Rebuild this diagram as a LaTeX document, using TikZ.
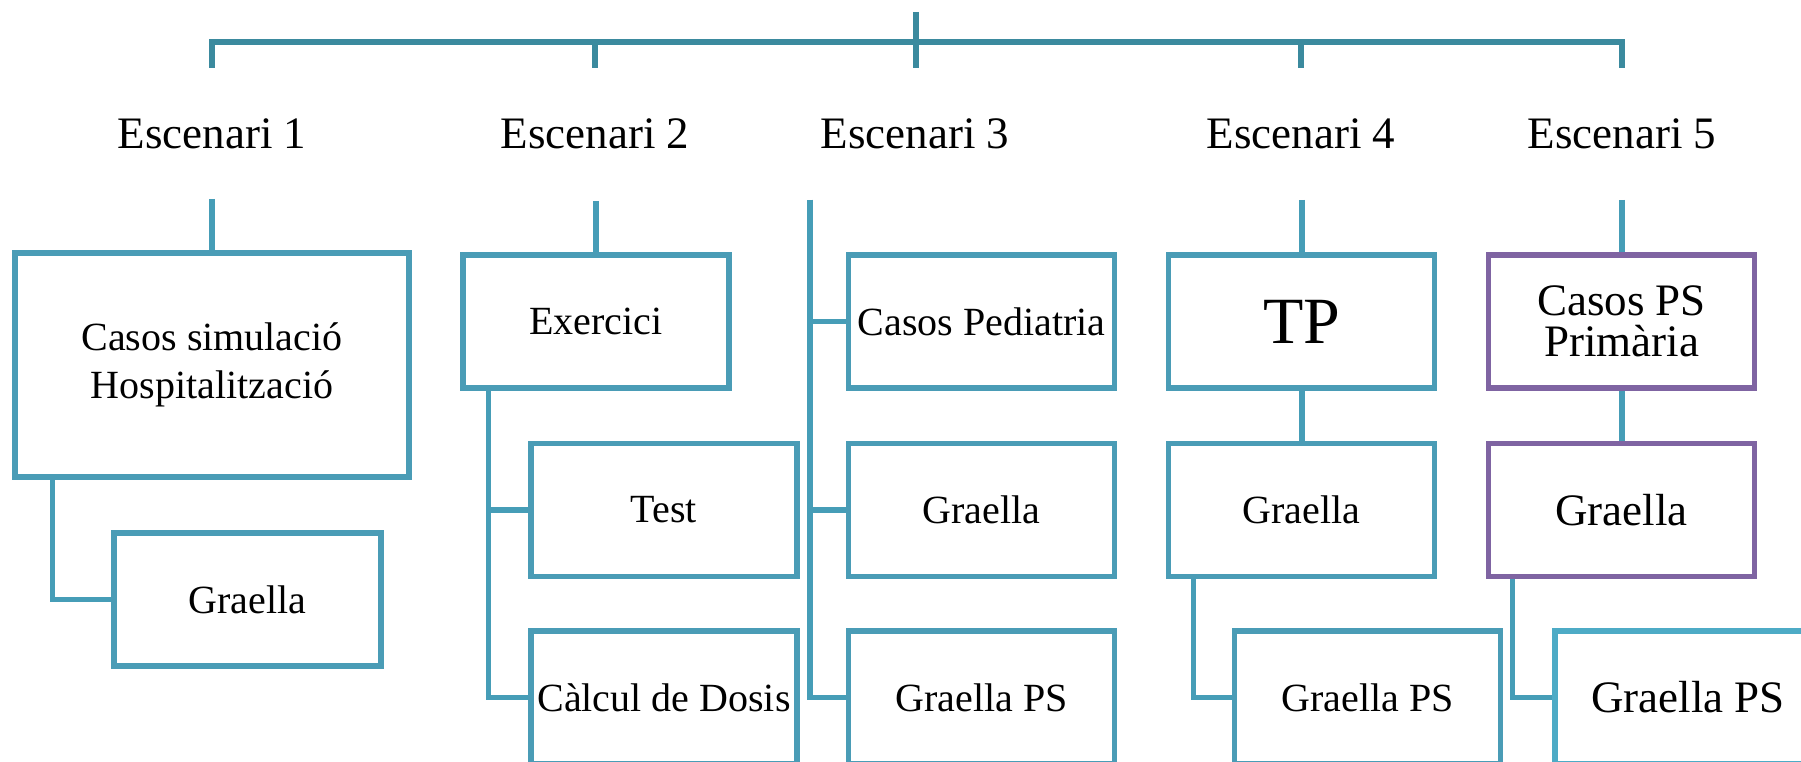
\documentclass[tikz,border=0pt]{standalone}
\usepackage{fontspec}
\setmainfont{Liberation Serif}
\definecolor{topc}{HTML}{3B8A9E}
\definecolor{linec}{HTML}{469DB7}
\definecolor{boxc}{HTML}{4A9CB6}
\definecolor{boxl}{HTML}{4DABC6}
\definecolor{purp}{HTML}{7F64A2}
\tikzset{
  topline/.style={draw=topc, line width=4.1pt},
  conn/.style={draw=linec, line width=3.9pt},
  boxn/.style={draw=boxc, line width=4.2pt, fill=white, inner sep=0pt, align=center,
     minimum width=199.5pt, minimum height=99.75pt, font=\fontsize{30}{36}\selectfont},
  boxp/.style={boxn, draw=purp, font=\fontsize{33.75}{31}\selectfont},
  lbl/.style={inner sep=0pt, font=\fontsize{33.75}{40}\selectfont}
}
\begin{document}
\begin{tikzpicture}[x=0.75pt,y=-0.75pt]
\useasboundingbox (0,0) rectangle (1801,762);
\clip (0,0) rectangle (1801,762);
% scenario labels
\node[lbl] (e1) at (212,134) {Escenari 1};
\node[lbl] (e2) at (595,134) {Escenari 2};
\node[lbl] (e3) at (915,134) {Escenari 3};
\node[lbl] (e4) at (1301,134) {Escenari 4};
\node[lbl] (e5) at (1622,134) {Escenari 5};
% top tree
\coordinate (root) at (916,12);
\coordinate (j) at (916,42);
\coordinate (d1) at (212,68);
\coordinate (d2) at (595,68);
\coordinate (d3) at (916,68);
\coordinate (d4) at (1301,68);
\coordinate (d5) at (1622,68);
\draw[topline] (root) -- (j);
\draw[topline] (d1) |- (j) -| (d5);
\draw[topline] (d2) -- (d2 |- j);
\draw[topline] (d3) -- (j);
\draw[topline] (d4) -- (d4 |- j);
% stub tops
\coordinate (s1) at (212,199);
\coordinate (s2) at (596,201);
\coordinate (s3) at (810,200);
\coordinate (s4) at (1302,200);
\coordinate (s5) at (1622,200);
% boxes
\node[boxn, minimum width=295.5pt, minimum height=168pt] (b1) at (212,365) {Casos simulació\\Hospitalització};
\node[boxn, minimum width=200.25pt] (g1) at (247.5,599.5) {Graella};
\node[boxn] (ex) at (596,321.5) {Exercici};
\node[boxn] (test) at (664,510) {Test};
\node[boxn] (calc) at (664,697.5) {Càlcul de Dosis};
\node[boxn] (cp) at (981.5,321.5) {Casos Pediatria};
\node[boxn] (g3) at (981.5,510) {Graella};
\node[boxn] (gps3) at (981.5,697.5) {Graella PS};
\node[boxn, font=\fontsize{49.5}{55}\selectfont] (tp) at (1301.5,321.5) {TP};
\node[boxn] (g4) at (1301.5,510) {Graella};
\node[boxn] (gps4) at (1367.5,697.5) {Graella PS};
\node[boxp] (cps) at (1621.5,321.5) {Casos PS\\Primària};
\node[boxp] (g5) at (1621.5,510) {Graella};
\node[boxn, draw=boxl, font=\fontsize{33.75}{40}\selectfont] (gps5) at (1688,697.5) {Graella PS};
% connectors
\draw[conn] (s1) -- (b1.north);
\draw[conn] ([xshift=40*0.75pt]b1.south west) |- (g1.west);
\draw[conn] (s2) -- (ex.north -| s2);
\draw[conn] ([xshift=28*0.75pt]ex.south west) |- (test.west);
\draw[conn] ([xshift=28*0.75pt]ex.south west) |- (calc.west);
\draw[conn] (s3) |- (cp.west);
\draw[conn] (s3) |- (g3.west);
\draw[conn] (s3) |- (gps3.west);
\draw[conn] (s4) -- (tp.north -| s4);
\draw[conn] (tp.south -| s4) -- (g4.north -| s4);
\draw[conn] ([xshift=28*0.75pt]g4.south west) |- (gps4.west);
\draw[conn] (s5) -- (cps.north -| s5);
\draw[conn] (cps.south -| s5) -- (g5.north -| s5);
\draw[conn] ([xshift=27*0.75pt]g5.south west) |- (gps5.west);
\end{tikzpicture}
\end{document}
